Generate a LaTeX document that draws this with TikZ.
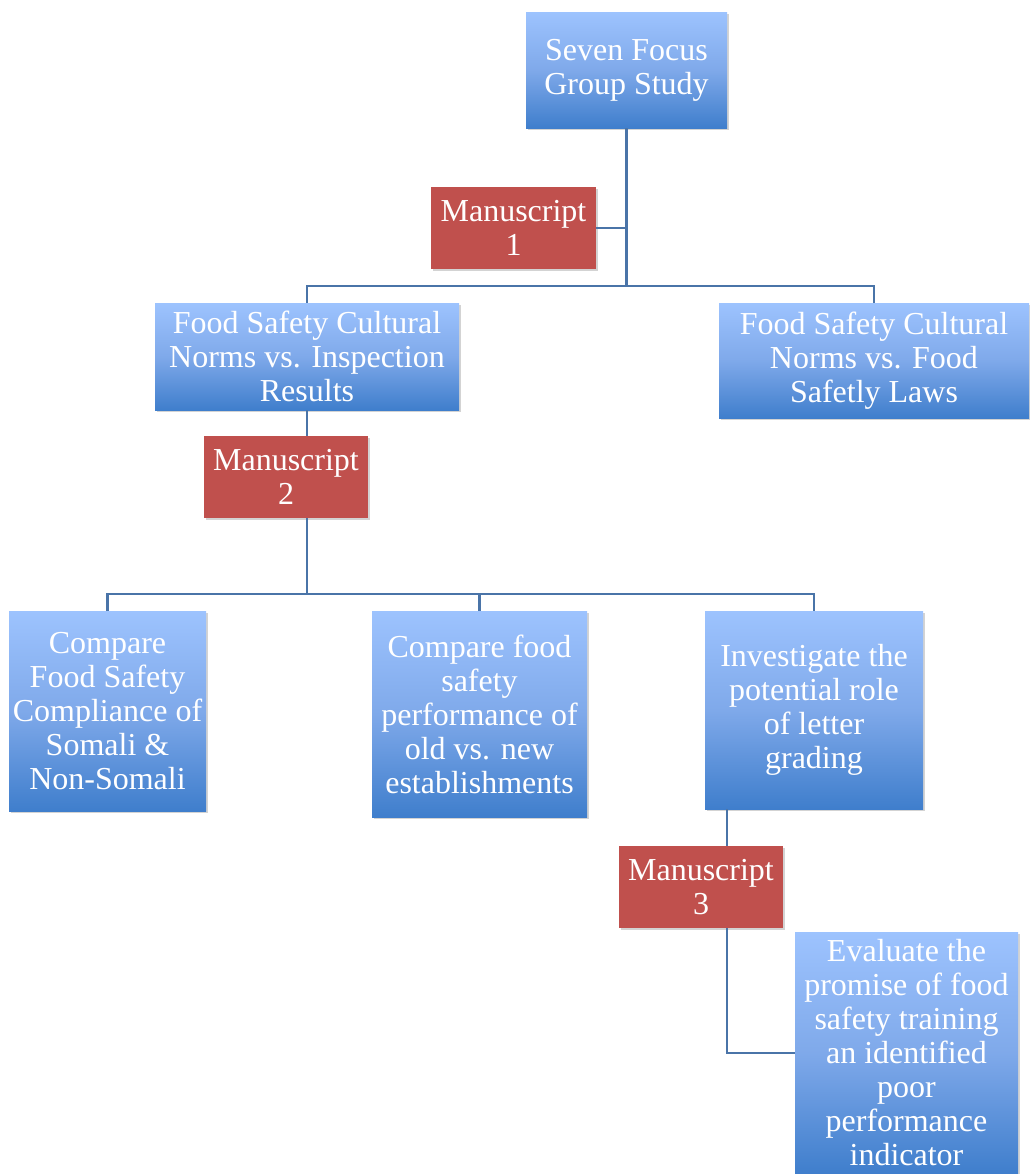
\documentclass[tikz,border=0pt]{standalone}
\usepackage{fontspec}
\setmainfont{Liberation Serif}
\usetikzlibrary{shadows}
\definecolor{bluetop}{HTML}{9DC3FE}
\definecolor{bluemid}{HTML}{7FA9EA}
\definecolor{bluebot}{HTML}{3F7ECC}
\definecolor{msred}{HTML}{C0504D}
\definecolor{linkc}{HTML}{4A74A8}
\tikzset{
  box/.style={rectangle, inner sep=0pt, align=center, text=white,
    font=\fontsize{24}{25.5}\selectfont,
    drop shadow={opacity=0.35, shadow xshift=1.2pt, shadow yshift=-1.8pt}},
  bluebox/.style={box, top color=bluetop, bottom color=bluebot, middle color=bluemid},
  redbox/.style={box, fill=msred},
  link/.style={draw=linkc, line width=1.6pt}
}
\begin{document}
\begin{tikzpicture}[x=0.75pt,y=-0.75pt]
\useasboundingbox (0,0) rectangle (1029,1174);
\node[bluebox, minimum width=201*0.75pt, minimum height=116*0.75pt] (top) at (626.5,70) {Seven Focus\\Group Study};
\node[redbox, minimum width=165*0.75pt, minimum height=82*0.75pt] (m1) at (513.5,228) {Manuscript\\1};
\node[bluebox, minimum width=304*0.75pt, minimum height=107*0.75pt] (fs1) at (307,356.5) {Food Safety Cultural\\Norms vs. Inspection\\Results};
\node[bluebox, minimum width=310*0.75pt, minimum height=115*0.75pt] (fs2) at (874,360.5) {Food Safety Cultural\\Norms vs. Food\\Safetly Laws};
\node[redbox, minimum width=164*0.75pt, minimum height=82*0.75pt] (m2) at (286,477) {Manuscript\\2};
\node[bluebox, minimum width=197*0.75pt, minimum height=200*0.75pt] (c1) at (107.5,711) {Compare\\Food Safety\\Compliance of\\Somali \&\\Non-Somali};
\node[bluebox, minimum width=215*0.75pt, minimum height=206*0.75pt] (c2) at (479.5,714) {Compare food\\safety\\performance of\\old vs. new\\establishments};
\node[bluebox, minimum width=218*0.75pt, minimum height=198*0.75pt] (c3) at (814,710) {Investigate the\\potential role\\of letter\\grading};
\node[redbox, minimum width=164*0.75pt, minimum height=82*0.75pt] (m3) at (701,887) {Manuscript\\3};
\node[bluebox, minimum width=223*0.75pt, minimum height=242*0.75pt] (ev) at (906.5,1053) {Evaluate the\\promise of food\\safety training\\an identified\\poor\\performance\\indicator};
\coordinate (j1) at (626.5,286);
\coordinate (j2) at (307,594);
\coordinate (j3) at (727,1053);
\draw[link] (top.south) -- (j1);
\draw[link] (fs1.north) |- (j1) -| (fs2.north);
\draw[link] (m1.east) -- (m1.east -| top.south);
\draw[link] (fs1.south) -- (fs1.south |- m2.north);
\draw[link] (j2 |- m2.south) -- (j2);
\draw[link] (c1.north) |- (j2) -| (c3.north);
\draw[link] (c2.north) -- (c2.north |- j2);
\draw[link] (j3 |- c3.south) -- (j3 |- m3.north);
\draw[link] (j3 |- m3.south) -- (j3) -- (ev.west);
\end{tikzpicture}
\end{document}
